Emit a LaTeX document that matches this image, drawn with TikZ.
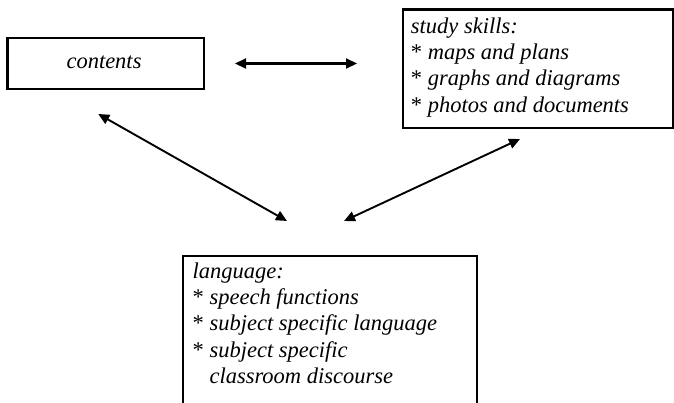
\documentclass[tikz,border=0pt]{standalone}
\usepackage{fontspec}
\setmainfont{Liberation Serif}
\usetikzlibrary{arrows.meta}
\begin{document}
\begin{tikzpicture}[x=1pt,y=-1pt,
  box/.style={draw, line width=2.4pt, inner sep=0pt, outer sep=0pt, anchor=north west},
  txt/.style={inner sep=0pt, anchor=base west, align=left, font=\fontsize{22.5}{26.4}\selectfont\itshape},
  link/.style={line width=1.9pt, {Triangle[length=11pt,width=10pt]}-{Triangle[length=11pt,width=10pt]}}]
\useasboundingbox (0,0) rectangle (674,402);
% boxes
\node[box, minimum width=196.7pt, minimum height=51.3pt] (contents) at (7.3,37.7) {};
\node[box, minimum width=270.5pt, minimum height=118.7pt] (study) at (402.7,9.3) {};
\node[box, minimum width=294.3pt, minimum height=170pt] (language) at (182.7,256) {};
% texts (base anchor = baseline of the last line)
\node[txt, anchor=base] (contentsText) at (104,68) {contents};
\node[txt] (studyText) at (410.7,112.2) {study skills:\\{\upshape*} maps and plans\\{\upshape*} graphs and diagrams\\{\upshape*} photos and documents};
\node[txt] (languageText) at (192.5,383.6) {language:\\{\upshape*} speech functions\\{\upshape*} subject specific language\\{\upshape*} subject specific\\\phantom{{\upshape*} }classroom discourse};
% arrow ends
\coordinate (h1) at (235,63.5);
\coordinate (h2) at (357,63.5);
\coordinate (d1a) at (98.3,114);
\coordinate (d1b) at (287,221);
\coordinate (d2a) at (520,139);
\coordinate (d2b) at (344,221);
\draw[link, line width=2.1pt] (h1) -- (h2);
\draw[link] (d1a) -- (d1b);
\draw[link] (d2a) -- (d2b);
\end{tikzpicture}
\end{document}
